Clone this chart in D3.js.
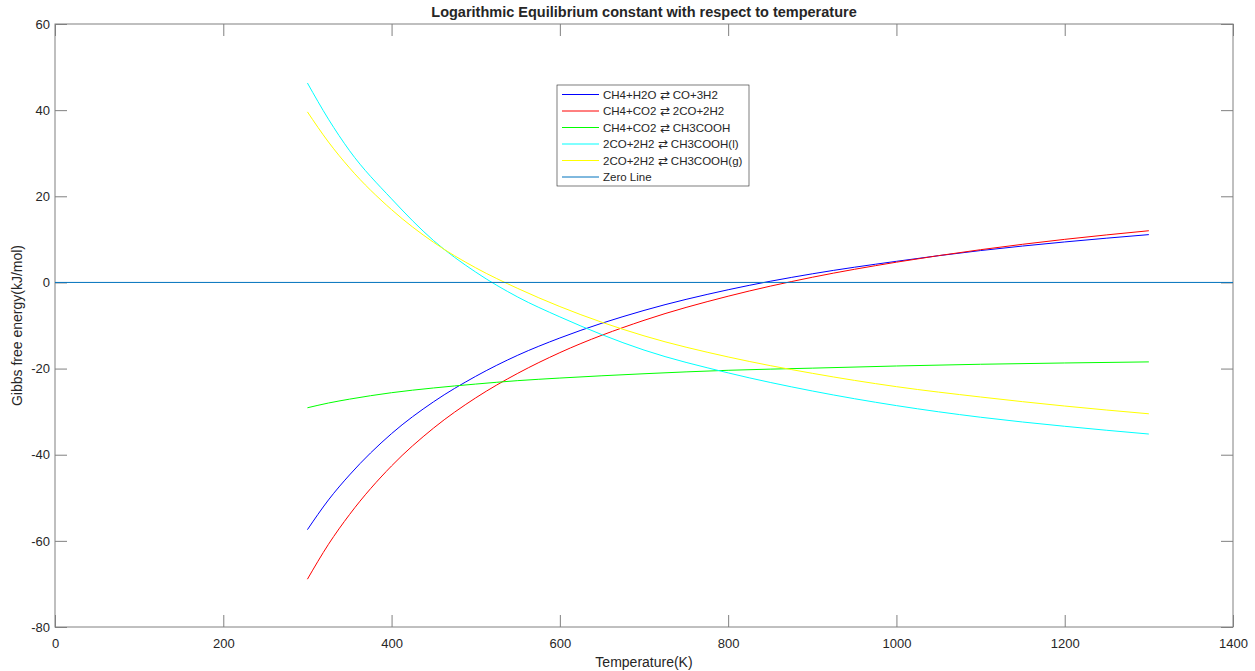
<!DOCTYPE html>
<html>
<head>
<meta charset="utf-8">
<script src="https://cdn.jsdelivr.net/npm/d3@7"></script>
<style>
  body { margin: 0; background: #fff; }
  text { font-family: "Liberation Sans", Arial, Helvetica, sans-serif; fill: #262626; }
</style>
</head>
<body>
<div class="chart"></div>
<script>

// Temperatures (K) at which the curves were read
var temps = [300, 325, 350, 400, 450, 500, 550, 600, 700, 800, 900, 1000, 1100, 1200, 1300];

// Values
var ch4H2o   = [-57.4, -50.5, -44.7, -35.1, -27.7, -21.8, -16.9, -12.9, -6.5, -1.7, 2.0, 4.9, 7.4, 9.4, 11.1];
var ch4Co2   = [-68.9, -60.8, -53.9, -42.6, -33.8, -26.8, -21.1, -16.3, -8.8, -3.2, 1.2, 4.7, 7.6, 10.0, 12.0];
var ch4Acid  = [-29.1, -28.0, -27.1, -25.6, -24.5, -23.6, -22.8, -22.2, -21.2, -20.4, -19.9, -19.4, -19.0, -18.7, -18.45];
var coAcidL  = [46.3, 37.9, 30.6, 19.4, 9.7, 2.4, -3.4, -8.0, -15.7, -21.0, -25.2, -28.6, -31.3, -33.4, -35.2];
var coAcidG  = [39.6, 32.6, 26.6, 16.9, 9.3, 3.4, -1.4, -5.6, -12.4, -17.3, -21.1, -24.2, -26.6, -28.7, -30.5];

var zeroTemps = [0, 1400];
var zeroVals = [0, 0];

var seriesNames = ["CH4+H2O \u21C4 CO+3H2", "CH4+CO2 \u21C4 2CO+2H2", "CH4+CO2 \u21C4 CH3COOH",
                   "2CO+2H2 \u21C4 CH3COOH(l)", "2CO+2H2 \u21C4 CH3COOH(g)", "Zero Line"];
var seriesColors = ["#0000ff", "#ff0000", "#00ff00", "#00ffff", "#ffff00", "#0072bd"];

var xTicks = [0, 200, 400, 600, 800, 1000, 1200, 1400];
var yTicks = [-80, -60, -40, -20, 0, 20, 40, 60];

// Dimensions
var fullW = 1255, fullH = 671;
var margin = {top: 24, right: 22, bottom: 44, left: 55};
var width = fullW - margin.left - margin.right;
var height = fullH - margin.top - margin.bottom;

var svg = d3.select(".chart")
  .append("svg")
    .attr("width", fullW)
    .attr("height", fullH);

var g = svg.append("g")
    .attr("transform", "translate(" + margin.left + "," + margin.top + ")");

var x = d3.scaleLinear().domain([0, 1400]).range([0, width]);
var y = d3.scaleLinear().domain([-80, 60]).range([height, 0]);

// Axes, ticks pointing inward like MATLAB
var tickLen = 12;
var axisColor = "#808080";
var plain = function(d) { return String(d); };

g.append("g")
    .attr("transform", "translate(0," + height + ")")
    .call(d3.axisBottom(x).tickValues(xTicks).tickSizeInner(-tickLen).tickSizeOuter(0).tickPadding(12).tickFormat(plain));
g.append("g")
    .call(d3.axisTop(x).tickValues(xTicks).tickSizeInner(-tickLen).tickSizeOuter(0).tickFormat(""));
g.append("g")
    .call(d3.axisLeft(y).tickValues(yTicks).tickSizeInner(-tickLen).tickSizeOuter(0).tickPadding(5).tickFormat(plain));
g.append("g")
    .attr("transform", "translate(" + width + ",0)")
    .call(d3.axisRight(y).tickValues(yTicks).tickSizeInner(-tickLen).tickSizeOuter(0).tickFormat(""));

g.selectAll(".domain").remove();
g.selectAll(".tick line").attr("stroke", axisColor);
g.selectAll(".tick text").style("font-size", "13px").attr("fill", "#262626");

g.append("rect")
    .attr("width", width)
    .attr("height", height)
    .attr("fill", "none")
    .attr("stroke", axisColor)
    .attr("stroke-width", 1);

// Curves
var line = d3.line()
    .x(function(d) { return x(d[0]); })
    .y(function(d) { return y(d[1]); })
    .curve(d3.curveMonotoneX);

var allSeries = [ch4H2o, ch4Co2, ch4Acid, coAcidL, coAcidG];
allSeries.forEach(function(vals, i) {
    g.append("path")
      .datum(d3.zip(temps, vals))
      .attr("d", line)
      .attr("fill", "none")
      .attr("stroke", seriesColors[i])
      .attr("stroke-width", 1);
});

g.append("path")
    .datum(d3.zip(zeroTemps, zeroVals))
    .attr("d", line)
    .attr("fill", "none")
    .attr("stroke", seriesColors[5])
    .attr("stroke-width", 1);

// Title and axis labels
svg.append("text")
    .attr("x", margin.left + width / 2)
    .attr("y", 17)
    .attr("text-anchor", "middle")
    .style("font-size", "14.5px")
    .style("font-weight", "bold")
    .attr("fill", "#000")
    .text("Logarithmic Equilibrium constant with respect to temperature");

svg.append("text")
    .attr("x", margin.left + width / 2)
    .attr("y", 667)
    .attr("text-anchor", "middle")
    .style("font-size", "14px")
    .text("Temperature(K)");

svg.append("text")
    .attr("transform", "translate(22," + (margin.top + height / 2) + ") rotate(-90)")
    .attr("text-anchor", "middle")
    .style("font-size", "14px")
    .text("Gibbs free energy(kJ/mol)");

// Legend
var legend = svg.append("g")
    .attr("transform", "translate(557,85)");

legend.append("rect")
    .attr("width", 192)
    .attr("height", 101)
    .attr("fill", "#fff")
    .attr("stroke", "#262626")
    .attr("stroke-width", 0.6);

seriesNames.forEach(function(name, i) {
    var rowY = 9.5 + i * 16.5;
    legend.append("line")
      .attr("x1", 5).attr("x2", 42)
      .attr("y1", rowY).attr("y2", rowY)
      .attr("stroke", seriesColors[i])
      .attr("stroke-width", 1);
    legend.append("text")
      .attr("x", 46)
      .attr("y", rowY + 4)
      .style("font-size", "11.5px")
      .attr("fill", "#000")
      .text(name);
});

</script>
</body>
</html>
